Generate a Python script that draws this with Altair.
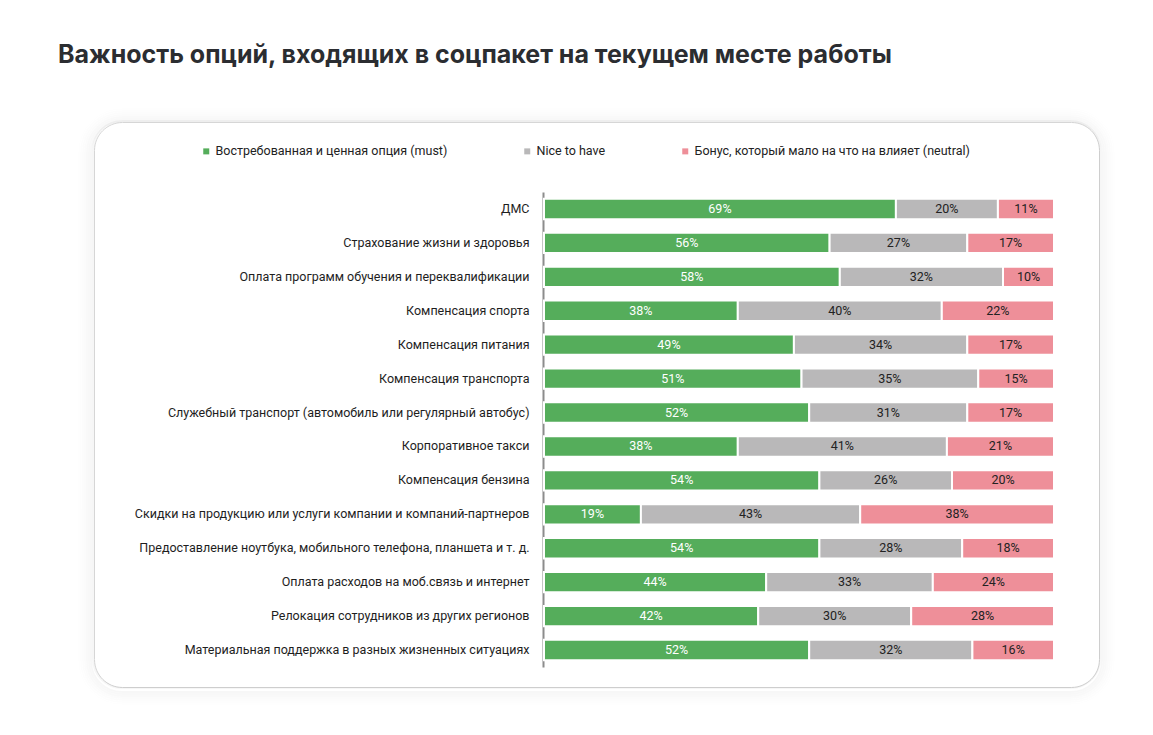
import altair as alt
import pandas as pd

options = [
    "ДМС",
    "Страхование жизни и здоровья",
    "Оплата программ обучения и переквалификации",
    "Компенсация спорта",
    "Компенсация питания",
    "Компенсация транспорта",
    "Служебный транспорт (автомобиль или регулярный автобус)",
    "Корпоративное такси",
    "Компенсация бензина",
    "Скидки на продукцию или услуги компании и компаний-партнеров",
    "Предоставление ноутбука, мобильного телефона, планшета и т. д.",
    "Оплата расходов на моб.связь и интернет",
    "Релокация сотрудников из других регионов",
    "Материальная поддержка в разных жизненных ситуациях",
]
must = [69, 56, 58, 38, 49, 51, 52, 38, 54, 19, 54, 44, 42, 52]
nice = [20, 27, 32, 40, 34, 35, 31, 41, 26, 43, 28, 33, 30, 32]
neutral = [11, 17, 10, 22, 17, 15, 17, 21, 20, 38, 18, 24, 28, 16]

series = [
    "Востребованная и ценная опция (must)",
    "Nice to have",
    "Бонус, который мало на что на влияет (neutral)",
]
colors = ["#55ad5b", "#b9b8b9", "#ee8f99"]

W, H = 1005, 565

rows = []
for i, opt in enumerate(options):
    for j, vals in enumerate([must, nice, neutral]):
        rows.append({"option": opt, "series": series[j], "order": j,
                     "value": vals[i], "label": f"{vals[i]}%"})
df = pd.DataFrame(rows)

# soft card shadow (decorative rings around the card)
shadow_layers = []
for k, d in enumerate([1, 3, 5, 7, 9, 11, 13, 15]):
    sh = 2 if d >= 3 else 0
    ring = pd.DataFrame({"x1": [-d], "x2": [W + d], "y1": [-d + sh], "y2": [H + d + sh]})
    shadow_layers.append(
        alt.Chart(ring).mark_rect(fill=None, stroke="#000000", strokeWidth=2,
                                  strokeOpacity=0.035 * (1 - k / 8), cornerRadius=28 + d)
        .encode(x=alt.X("x1:Q", scale=None), x2="x2:Q",
                y=alt.Y("y1:Q", scale=None), y2="y2:Q")
    )

base = alt.Chart(df).transform_stack(
    stack="value", groupby=["option"], as_=["x0", "x1"], offset="normalize",
    sort=[alt.SortField("order", order="ascending")],
).transform_calculate(mid="(datum.x0 + datum.x1) / 2")

xs = alt.Scale(domain=[0, 1], range=[450, 960])
ys = alt.Scale(range=[70, 545], paddingInner=0.4, paddingOuter=0.2)
yaxis = alt.Axis(title=None, offset=-449, domainColor="#8c8c8c", domainWidth=2,
                 ticks=False, labelPadding=14, labelFont="Roboto", labelFontSize=12.5,
                 labelColor="#1e1e1e", labelLimit=0, grid=False)

bars = base.mark_bar(stroke="white", strokeWidth=2).encode(
    x=alt.X("x0:Q", scale=xs, axis=None),
    x2="x1:Q",
    y=alt.Y("option:N", sort=options, scale=ys, axis=yaxis),
    color=alt.Color("series:N", scale=alt.Scale(domain=series, range=colors),
                    legend=alt.Legend(title=None, orient="none", legendX=106, legendY=23,
                                      direction="horizontal", symbolType="square", symbolSize=36,
                                      symbolStrokeWidth=0, labelFont="Roboto", labelFontSize=12.5,
                                      labelColor="#222222", labelOffset=3, columnPadding=73,
                                      labelLimit=0, padding=0)),
)

texts = base.mark_text(font="Roboto", fontSize=12.5).encode(
    x=alt.X("mid:Q", scale=xs, axis=None),
    y=alt.Y("option:N", sort=options, scale=ys, axis=yaxis),
    text="label:N",
    color=alt.condition("datum.order == 0", alt.value("#ffffff"), alt.value("#222222")),
)

chart = alt.layer(*shadow_layers, bars, texts).properties(
    width=W, height=H,
    padding={"left": 86, "top": 114, "right": 40, "bottom": 40},
    autosize=alt.AutoSizeParams(type="none"),
    title=alt.TitleParams(text="Важность опций, входящих в соцпакет на текущем месте работы",
                          anchor="start", frame="group", dx=-36, offset=20, baseline="alphabetic",
                          fontSize=25, font="Inter", fontWeight="bold", color="#2b2d31"),
).configure_view(stroke="#d6d6d6", strokeWidth=1, cornerRadius=28, fill="white")

chart.save("out.html", embed_options={"renderer": "svg", "actions": False})
